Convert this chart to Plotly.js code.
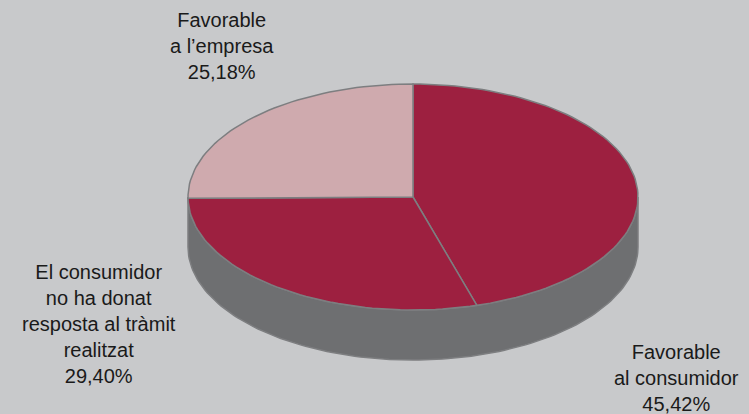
<!DOCTYPE html>
<html>
<head>
<meta charset="utf-8">
<script src="https://cdn.plot.ly/plotly-3.0.1.min.js"></script>
<style>html,body{margin:0;padding:0;background:#c8c9cb;}#chart{width:749px;height:414px;}</style>
</head>
<body>
<div id="chart"></div>
<script>
// ---- data ----
const labels = ["Favorable<br>al consumidor", "El consumidor<br>no ha donat<br>resposta al tràmit<br>realitzat", "Favorable<br>a l’empresa"];
const values = [45.42, 29.40, 25.18];
const colors = ["#9d2040", "#9d2040", "#cfaaae"];

// ---- geometry (pseudo-3D ellipse) ----
const RX = 225, RY = 113, DEPTH = 50;
const SIDE = "#6e6f71", EDGE = "#7d7e80";
function pt(t, dy) { return [RX * Math.sin(t), RY * Math.cos(t) - (dy || 0)]; }

const traces = [];
// side wall (front half)
{
  const xs = [], ys = [];
  const n = 120;
  for (let i = 0; i <= n; i++) { const t = Math.PI / 2 + Math.PI * i / n; const p = pt(t, 0); xs.push(p[0]); ys.push(p[1]); }
  for (let i = n; i >= 0; i--) { const t = Math.PI / 2 + Math.PI * i / n; const p = pt(t, DEPTH); xs.push(p[0]); ys.push(p[1]); }
  xs.push(xs[0]); ys.push(ys[0]);
  traces.push({ type: "scatter", mode: "lines", x: xs, y: ys, fill: "toself", fillcolor: SIDE,
    line: { color: EDGE, width: 1.5 }, hoverinfo: "skip", showlegend: false });
}
// top slices
const total = values.reduce((a, b) => a + b, 0);
let acc = 0;
values.forEach((v, k) => {
  const t0 = 2 * Math.PI * acc / total, t1 = 2 * Math.PI * (acc + v) / total;
  acc += v;
  const xs = [0], ys = [0];
  const n = Math.max(10, Math.round(200 * v / total));
  for (let i = 0; i <= n; i++) { const p = pt(t0 + (t1 - t0) * i / n, 0); xs.push(p[0]); ys.push(p[1]); }
  xs.push(0); ys.push(0);
  traces.push({ type: "scatter", mode: "lines", x: xs, y: ys, fill: "toself", fillcolor: colors[k],
    line: { color: EDGE, width: 1.5 }, name: labels[k].replace(/<br>/g, " "),
    hoverinfo: "name", showlegend: false });
});

// labels
const fmt = v => v.toFixed(2).replace(".", ",") + "%";
const labelPos = [[263, -181], [-314, -127], [-191, 151]];
const annotations = values.map((v, k) => ({
  x: labelPos[k][0], y: labelPos[k][1], xref: "x", yref: "y",
  text: labels[k] + "<br>" + fmt(v), showarrow: false, align: "center",
  xanchor: "center", yanchor: "middle",
  font: { family: "Liberation Sans, Arial, Helvetica, sans-serif", size: 20, color: "#1a1a1a" }
}));

const layout = {
  width: 749, height: 414,
  margin: { l: 0, r: 0, t: 0, b: 0 },
  paper_bgcolor: "#c8c9cb", plot_bgcolor: "#c8c9cb",
  xaxis: { range: [-413, 336], visible: false, fixedrange: true },
  yaxis: { range: [-217, 197], visible: false, fixedrange: true },
  annotations: annotations, showlegend: false
};
Plotly.newPlot("chart", traces, layout, { displayModeBar: false, staticPlot: true });
</script>
</body>
</html>
